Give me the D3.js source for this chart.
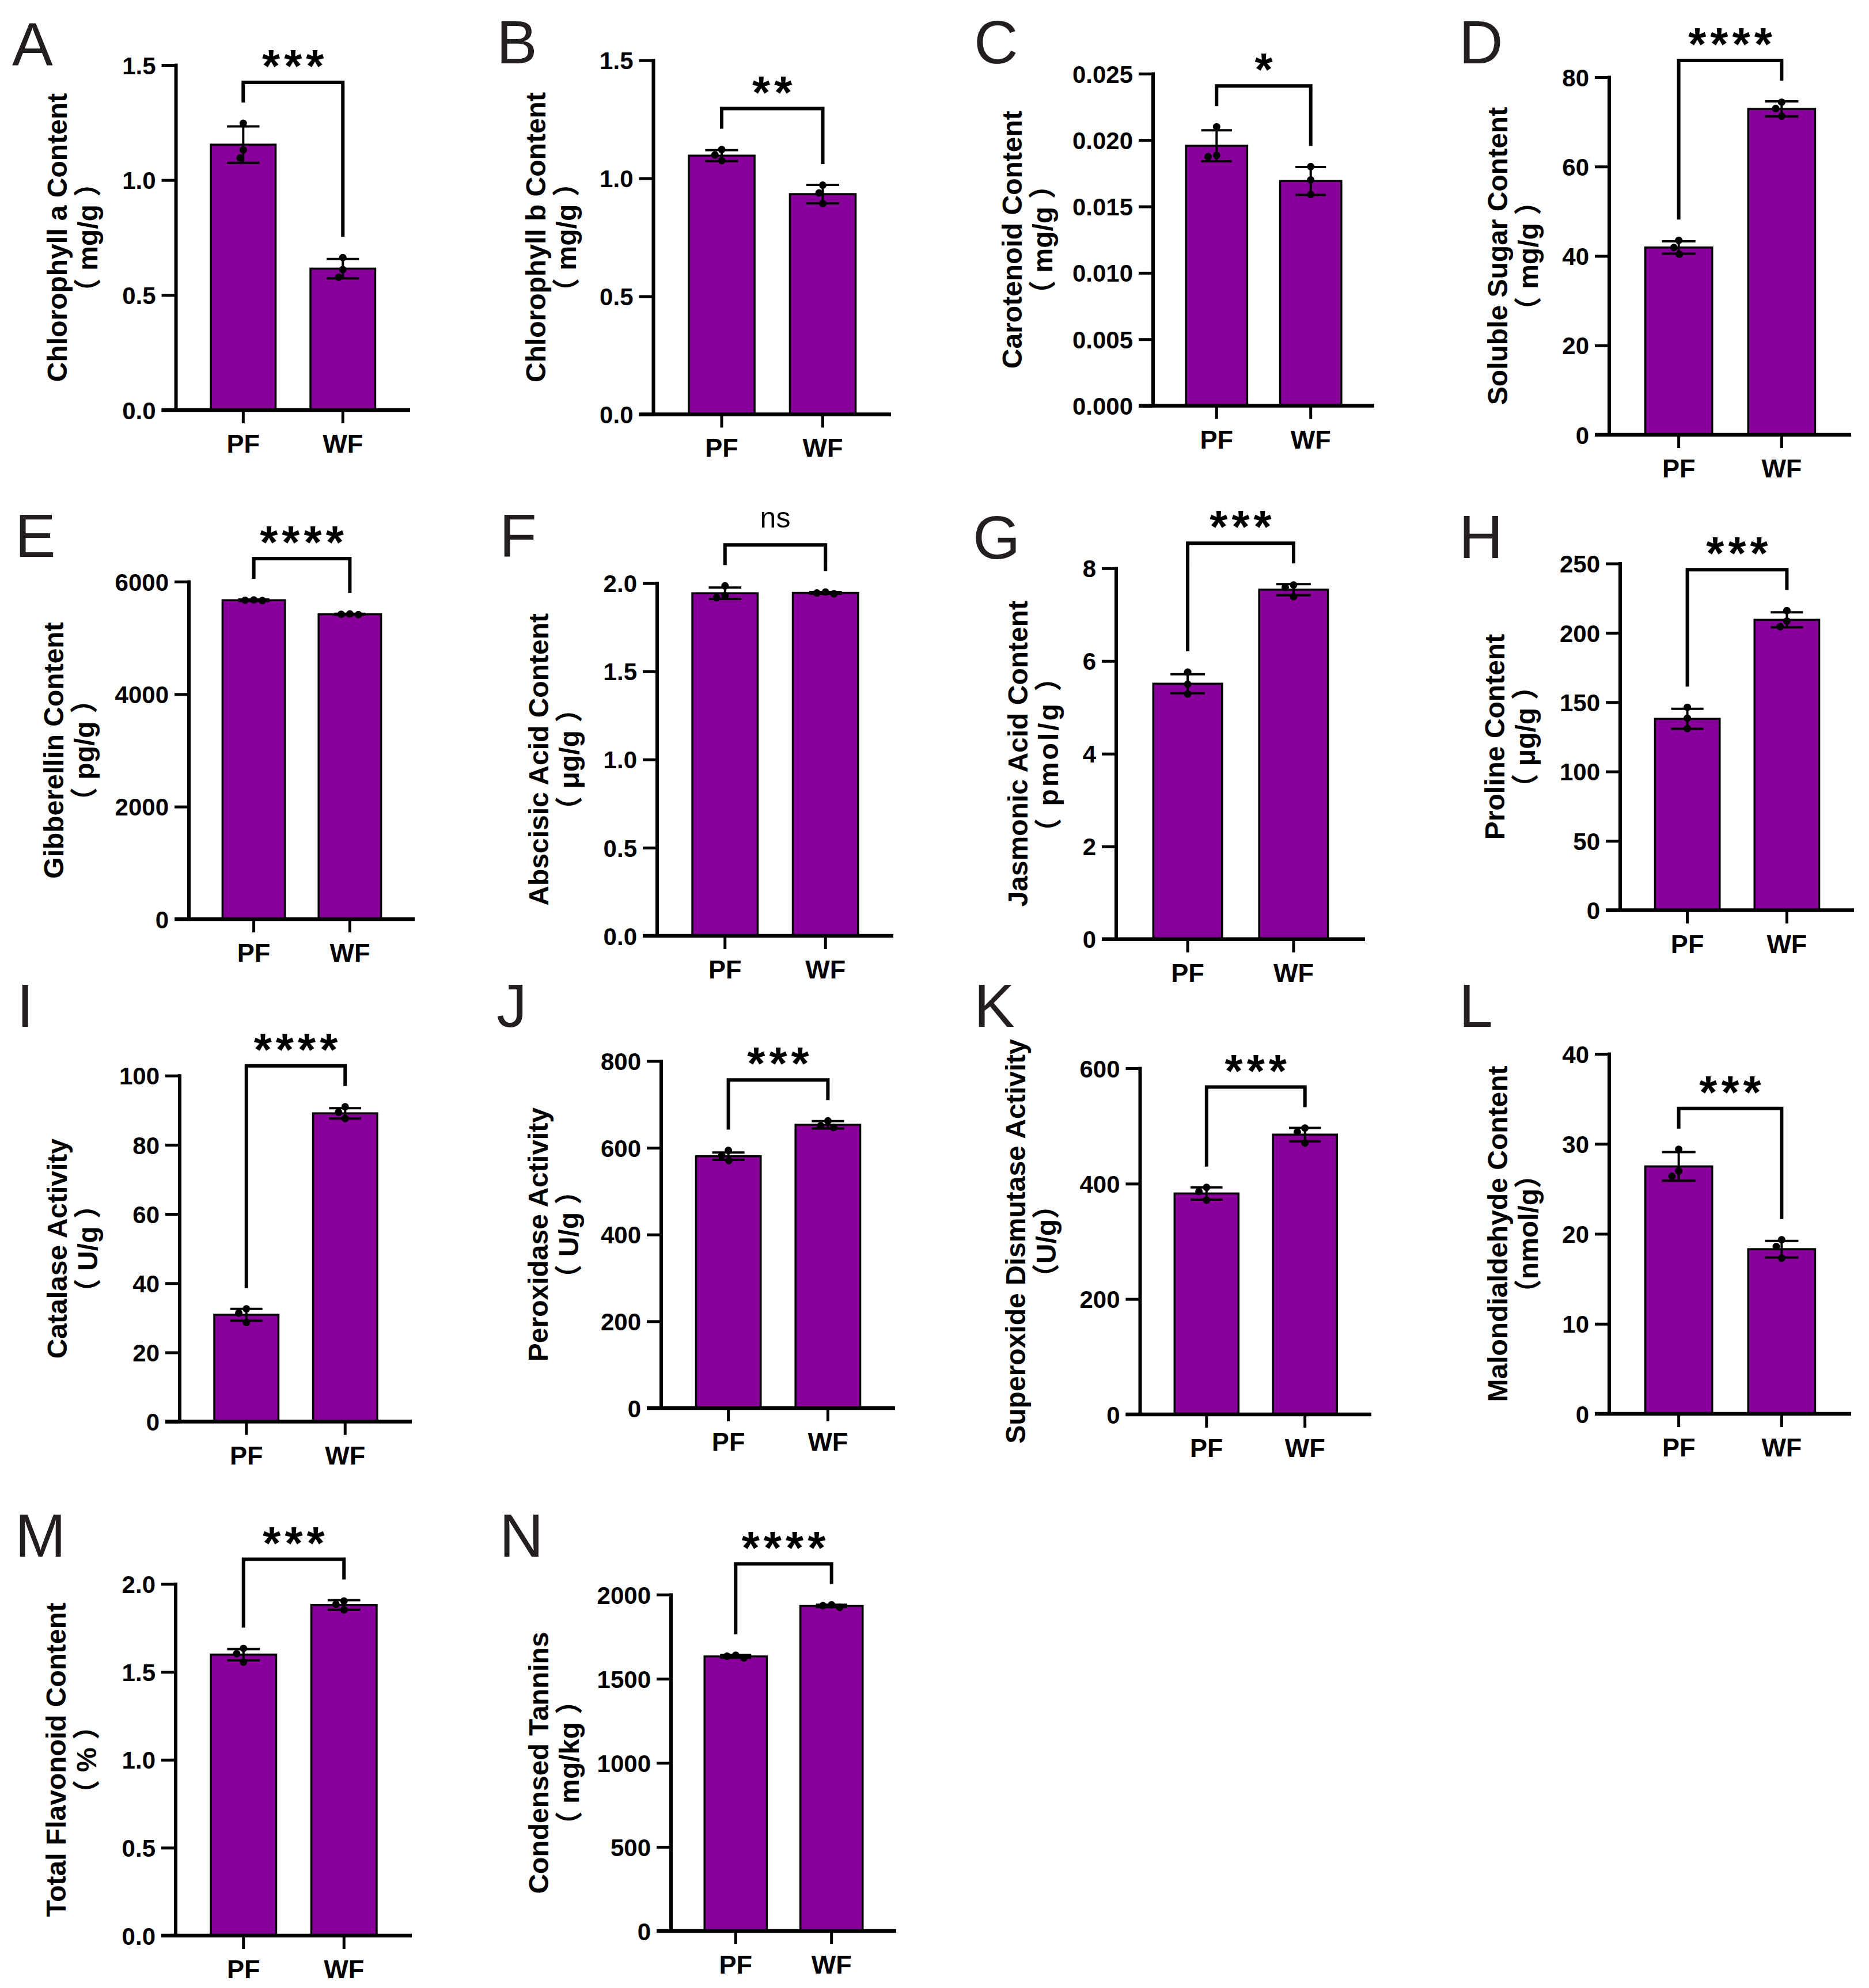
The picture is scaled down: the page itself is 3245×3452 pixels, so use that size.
<!DOCTYPE html>
<html>
<head>
<meta charset="utf-8">
<script src="https://cdn.jsdelivr.net/npm/d3@7"></script>
<style>
  body { margin: 0; background: #fff; }
</style>
</head>
<body>
<svg id="fig"></svg>
<script>
'use strict'

// ---- data ----
const panelIds = ['A','B','C','D','E','F','G','H','I','J','K','L','M','N'];
const titles = [
  'Chlorophyll a Content', 'Chlorophyll b Content', 'Carotenoid Content', 'Soluble Sugar Content',
  'Gibberellin Content', 'Abscisic Acid Content', 'Jasmonic Acid Content', 'Proline Content',
  'Catalase Activity', 'Peroxidase Activity', 'Superoxide Dismutase Activity', 'Malondialdehyde Content',
  'Total Flavonoid Content', 'Condensed Tannins'
];
const units = [
  '（ mg/g ）', '（ mg/g ）', '（ mg/g ）', '（ mg/g ）',
  '（ pg/g ）', '（ μg/g ）', '（ pmol/g ）', '（ μg/g ）',
  '（ U/g ）', '（ U/g ）', '（U/g）', '（nmol/g）',
  '（ % ）', '（ mg/kg ）'
];
const groups = ['PF', 'WF'];
const means = [
  [1.154, 0.615], [1.096, 0.933], [0.01957, 0.01692], [41.9, 72.9],
  [5670, 5420], [1.943, 1.945], [5.51, 7.54], [138.0, 209.4],
  [30.9, 89.1], [580.6, 653.0], [383.0, 485.0], [27.5, 18.3],
  [1.598, 1.881], [1633, 1933]
];
const sds = [
  [0.079, 0.042], [0.023, 0.039], [0.00117, 0.00105], [1.4, 1.7],
  [12, 10], [0.032, 0.005], [0.205, 0.12], [7.2, 5.4],
  [1.7, 1.5], [8.4, 8.4], [10.5, 11.6], [1.59, 0.92],
  [0.032, 0.027], [8, 7]
];
const points = [
  [[1.247, 1.131, 1.096], [0.663, 0.611, 0.578]],
  [[1.122, 1.099, 1.075], [0.971, 0.938, 0.893]],
  [[0.0210, 0.01885, 0.01875], [0.0180, 0.0170, 0.0159]],
  [[43.5, 41.9, 40.4], [74.4, 73.0, 71.3]],
  [[5676, 5670, 5664], [5426, 5420, 5414]],
  [[1.985, 1.930, 1.918], [1.950, 1.945, 1.940]],
  [[5.76, 5.50, 5.29], [7.64, 7.59, 7.39]],
  [[146.3, 138.5, 131.0], [216.0, 208.5, 204.5]],
  [[32.6, 31.4, 28.7], [91.0, 89.4, 87.6]],
  [[594.0, 581.5, 570.5], [662.0, 651.0, 647.0]],
  [[393.6, 386.5, 371.5], [496.5, 489.5, 470.5]],
  [[29.4, 27.0, 26.4], [19.35, 18.6, 17.3]],
  [[1.634, 1.604, 1.556], [1.903, 1.885, 1.853]],
  [[1640, 1634, 1624], [1940, 1935, 1925]]
];
const yTicks = [
  [0, 0.5, 1.0, 1.5], [0, 0.5, 1.0, 1.5], [0, 0.005, 0.010, 0.015, 0.020, 0.025], [0, 20, 40, 60, 80],
  [0, 2000, 4000, 6000], [0, 0.5, 1.0, 1.5, 2.0], [0, 2, 4, 6, 8], [0, 50, 100, 150, 200, 250],
  [0, 20, 40, 60, 80, 100], [0, 200, 400, 600, 800], [0, 200, 400, 600], [0, 10, 20, 30, 40],
  [0, 0.5, 1.0, 1.5, 2.0], [0, 500, 1000, 1500, 2000]
];
const tickFmt = ['.1f','.1f','.3f','d','d','.1f','d','d','d','d','d','d','.1f','d'];
const sigLabels = ['***','**','*','****','****','ns','***','***','****','***','***','***','***','****'];

// ---- panel geometry (pixels) ----
const layout = [
  {ax: 305.6, top: 113,    zero: 712,    end: 712,  lx: 21,    ly: 113,   t1: -190, ls: 0},
  {ax: 1134.5,top: 104.7,  zero: 719.4,  end: 1547, lx: 862,   ly: 110,   t1: -188, ls: 0},
  {ax: 2002,  top: 127.9,  zero: 704.5,  end: 2386, lx: 1691,  ly: 110,   t1: -228, ls: 0},
  {ax: 2794,  top: 134,    zero: 755,    end: 3214, lx: 2533,  ly: 110,   t1: -177, ls: 0},
  {ax: 328,   top: 1010,   zero: 1596,   end: 720,  lx: 26,    ly: 967,   t1: -218, ls: 0},
  {ax: 1141,  top: 1012.7, zero: 1625,   end: 1551, lx: 867,   ly: 967,   t1: -189, ls: 0},
  {ax: 1938,  top: 986.8,  zero: 1630.7, end: 2370, lx: 1689,  ly: 970,   t1: -154, ls: 4},
  {ax: 2813,  top: 978.5,  zero: 1580.5, end: 3219, lx: 2533,  ly: 969,   t1: -201, ls: 0},
  {ax: 312,   top: 1867.7, zero: 2468.6, end: 715,  lx: 29,    ly: 1783,  t1: -196, ls: 0},
  {ax: 1148,  top: 1842.4, zero: 2445,   end: 1554, lx: 862,   ly: 1783,  t1: -197, ls: 0},
  {ax: 1979.5,top: 1855,   zero: 2456,   end: 2381, lx: 1691,  ly: 1783,  t1: -200, ls: 0},
  {ax: 2794,  top: 1830,   zero: 2455,   end: 3214, lx: 2533,  ly: 1783,  t1: -177, ls: 0},
  {ax: 305,   top: 2750.5, zero: 3361,   end: 715,  lx: 26,    ly: 2703,  t1: -191, ls: 0},
  {ax: 1165,  top: 2769,   zero: 3353,   end: 1556, lx: 867,   ly: 2703,  t1: -213, ls: 0}
];

const W = 3245, H = 3452;
const FONT = "'Liberation Sans', Arial, 'Noto Sans CJK SC', sans-serif";
const barFill = '#880099';
const dotR = 6.5;

const svg = d3.select('#fig').attr('width', W).attr('height', H).attr('viewBox', `0 0 ${W} ${H}`);
svg.append('rect').attr('width', W).attr('height', H).attr('fill', '#fff');

// ink measurement for star / ns placement
const mctx = document.createElement('canvas').getContext('2d');
function inkDescent(txt, font) {
  mctx.font = font;
  return mctx.measureText(txt).actualBoundingBoxDescent;
}

// simple beeswarm so tied replicates sit side by side
function swarm(vals, y, minD) {
  const placed = [];
  return vals.map(function(v) {
    const py = y(v);
    const cands = [0];
    placed.forEach(function(p) {
      const dy = Math.abs(p.y - py);
      if (dy < minD) {
        const dx = Math.sqrt(minD * minD - dy * dy);
        cands.push(p.x + dx, p.x - dx);
      }
    });
    cands.sort(function(a, b) { return Math.abs(a) - Math.abs(b) || a - b; });
    const ok = cands.find(function(c) {
      return placed.every(function(p) { return Math.hypot(p.x - c, p.y - py) >= minD - 0.01; });
    });
    const o = {x: ok, y: py};
    placed.push(o);
    return o;
  });
}

panelIds.forEach(function(id, i) {
  const L = layout[i];
  const g = svg.append('g').attr('class', 'panel-' + id);

  const y = d3.scaleLinear().domain([0, d3.max(yTicks[i])]).range([L.zero, L.top]);
  const x = d3.scaleBand().domain(groups).range([L.ax, L.end]).paddingInner(0.35).paddingOuter(0.35);
  const bw = x.bandwidth();

  // panel letter
  g.append('text')
    .attr('x', L.lx).attr('y', L.ly)
    .attr('font-family', FONT).attr('font-size', 106).attr('fill', '#231f20')
    .text(id);

  // bars
  g.selectAll('.bar').data(groups).enter().append('rect')
    .attr('class', 'bar')
    .attr('x', function(d) { return x(d); })
    .attr('y', function(d, j) { return y(means[i][j]); })
    .attr('width', bw)
    .attr('height', function(d, j) { return y(0) - y(means[i][j]); })
    .attr('fill', barFill).attr('stroke', '#000').attr('stroke-width', 3.5);

  // error bars (mean +- SD)
  groups.forEach(function(grp, j) {
    const cx = x(grp) + bw / 2;
    const hi = y(means[i][j] + sds[i][j]), lo = y(means[i][j] - sds[i][j]);
    const eb = g.append('g').attr('stroke', '#000').attr('stroke-width', 4);
    eb.append('line').attr('x1', cx).attr('x2', cx).attr('y1', hi).attr('y2', lo);
    eb.append('line').attr('x1', cx - bw / 4).attr('x2', cx + bw / 4).attr('y1', hi).attr('y2', hi);
    eb.append('line').attr('x1', cx - bw / 4).attr('x2', cx + bw / 4).attr('y1', lo).attr('y2', lo);

    const pos = swarm(points[i][j], y, 15);
    g.selectAll('.dot-' + grp).data(pos).enter().append('circle')
      .attr('cx', function(d) { return cx + d.x; })
      .attr('cy', function(d) { return d.y; })
      .attr('r', dotR).attr('fill', '#000');
  });

  // y axis
  const ya = g.append('g')
    .attr('transform', `translate(${L.ax},0)`)
    .call(d3.axisLeft(y).tickValues(yTicks[i]).tickFormat(d3.format(tickFmt[i]))
      .tickSize(25).tickSizeOuter(0).tickPadding(10));
  ya.select('.domain').attr('stroke-width', 6).attr('d', `M0,${L.top - 2.5}V${L.zero}`);
  ya.selectAll('.tick line').attr('stroke-width', 5);
  ya.selectAll('.tick text')
    .attr('font-family', FONT).attr('font-size', 42).attr('font-weight', 'bold').attr('fill', '#000')
    .attr('dy', '0.36em');

  // x axis
  const xa = g.append('g')
    .attr('transform', `translate(0,${L.zero})`)
    .call(d3.axisBottom(x).tickSize(23).tickSizeOuter(0));
  xa.select('.domain').attr('stroke-width', 6.5).attr('d', `M${L.ax - 25},0H${L.end}`);
  xa.selectAll('.tick line').attr('stroke-width', 5);
  xa.selectAll('.tick text')
    .attr('font-family', FONT).attr('font-size', 45).attr('font-weight', 'bold').attr('fill', '#000')
    .attr('dy', null).attr('y', 74);

  // y title (two lines)
  const cy = (L.top + L.zero) / 2;
  const tx = L.ax + L.t1;
  g.append('text')
    .attr('transform', `translate(${tx},${cy}) rotate(-90)`)
    .attr('text-anchor', 'middle')
    .attr('font-family', FONT).attr('font-size', 48).attr('font-weight', 'bold')
    .text(titles[i]);
  g.append('text')
    .attr('transform', `translate(${tx + 53},${cy}) rotate(-90)`)
    .attr('text-anchor', 'middle')
    .attr('font-family', FONT).attr('font-size', 48).attr('font-weight', 'bold')
    .attr('letter-spacing', L.ls)
    .text(units[i]);

  // significance bracket
  const legs = groups.map(function(grp, j) {
    const topVal = Math.max(d3.max(points[i][j]), means[i][j] + sds[i][j]);
    return y(topVal) - 36;
  });
  const by = d3.min(legs) - 35;
  const x1 = x('PF') + bw / 2, x2 = x('WF') + bw / 2;
  g.append('path')
    .attr('d', `M${x1},${legs[0]}V${by}H${x2}V${legs[1]}`)
    .attr('fill', 'none').attr('stroke', '#000').attr('stroke-width', 6)
    .attr('stroke-linejoin', 'miter');

  const lab = sigLabels[i];
  const isNs = lab === 'ns';
  const fSize = isNs ? 50 : 80;
  const fWeight = isNs ? 'normal' : 'bold';
  const spacing = isNs ? 0 : 7;
  const fontStr = `${fWeight} ${fSize}px 'Liberation Sans'`;
  const inkBottom = isNs ? by - 30 : by - 26;
  const baseline = inkBottom - inkDescent(lab, fontStr);
  g.append('text')
    .attr('x', (x1 + x2) / 2 + spacing / 2).attr('y', baseline)
    .attr('text-anchor', 'middle')
    .attr('font-family', FONT).attr('font-size', fSize).attr('font-weight', fWeight)
    .attr('letter-spacing', spacing)
    .text(lab);
});
</script>
</body>
</html>
